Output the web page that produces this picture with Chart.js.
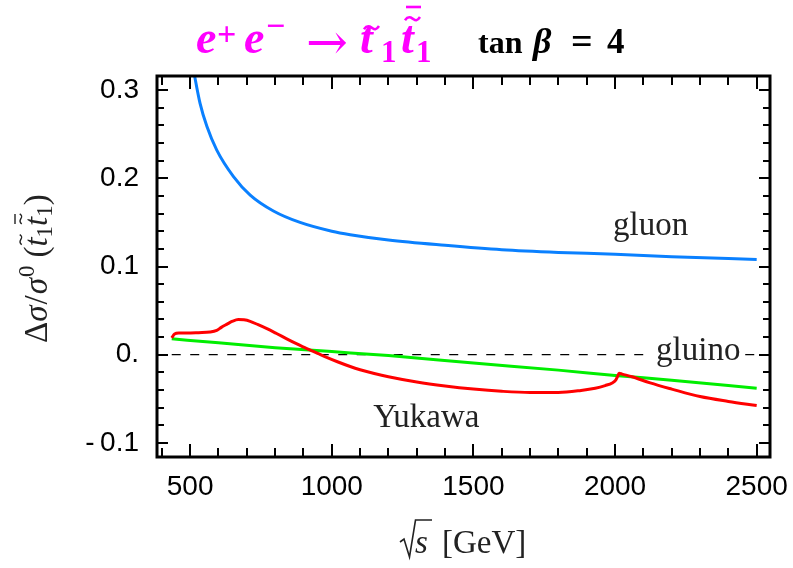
<!DOCTYPE html>
<html>
<head>
<meta charset="utf-8">
<script src="https://cdn.jsdelivr.net/npm/chart.js@4.4.1/dist/chart.umd.min.js"></script>
<style>
  html, body { margin: 0; padding: 0; background: #fff; }
</style>
</head>
<body>
<canvas id="chart" width="793" height="568"></canvas>
<script>
// values (sqrt(s) in GeV, delta sigma / sigma0)
const gluonX = [500, 517, 535, 559, 594, 653, 712, 794, 888, 1000, 1065, 1200, 1400, 1600, 1800, 2000, 2200, 2500];
const gluonY = [0.345, 0.314, 0.285, 0.259, 0.232, 0.202, 0.181, 0.163, 0.150, 0.140, 0.136, 0.130, 0.124, 0.119, 0.116, 0.114, 0.111, 0.108];

const gluinoX = [435, 600, 800, 1000, 1200, 1500, 1800, 2000, 2200, 2500];
const gluinoY = [0.018, 0.0135, 0.008, 0.0035, -0.001, -0.0095, -0.0175, -0.0235, -0.029, -0.038];

const yukawaX = [435, 445, 460, 488, 530, 570, 594, 610, 629, 650, 670, 690, 712, 740, 771, 805, 841, 875, 912, 950, 982, 1020, 1065, 1100, 1150, 1200, 1300, 1400, 1500, 1600, 1700, 1800, 1880, 1930, 1965, 1990, 2003, 2010, 2014, 2025, 2060, 2124, 2200, 2300, 2400, 2500];
const yukawaY = [0.019, 0.0235, 0.0245, 0.0245, 0.025, 0.0257, 0.0276, 0.031, 0.0344, 0.038, 0.0398, 0.0395, 0.0378, 0.034, 0.0295, 0.024, 0.018, 0.0125, 0.0068, 0.0015, -0.003, -0.008, -0.0134, -0.017, -0.0213, -0.025, -0.031, -0.0355, -0.039, -0.0415, -0.0428, -0.0428, -0.0405, -0.038, -0.035, -0.032, -0.0285, -0.024, -0.021, -0.022, -0.025, -0.032, -0.039, -0.0475, -0.053, -0.0576];

const zeroX = [435, 2500];
const zeroY = [0, 0];

const xTicks = [500, 1000, 1500, 2000, 2500];
const xTickLabels = ['500', '1000', '1500', '2000', '2500'];
const yTicks = [-0.1, 0, 0.1, 0.2, 0.3];
const yTickLabels = ['-\u20090.1', '0.', '0.1', '0.2', '0.3'];

// curve labels, anchored in data units
const curveLabels = [
    { text: 'gluon', x: 1993, y: 0.1356, box: false },
    { text: 'Yukawa', x: 1146, y: -0.0815, box: false },
    { text: 'gluino', x: 2145, y: -0.0065, box: true }
];

const toPoints = (xs, ys) => xs.map((x, i) => ({ x: x, y: ys[i] }));

const SERIF = '"Liberation Serif", "DejaVu Serif", serif';

function tilde(ctx, x, y, w, h, lw) {
    ctx.save();
    ctx.lineWidth = lw;
    ctx.beginPath();
    ctx.moveTo(x, y + h * 0.3);
    ctx.bezierCurveTo(x + w * 0.25, y - h, x + w * 0.45, y - h * 0.2, x + w * 0.55, y);
    ctx.bezierCurveTo(x + w * 0.7, y + h * 0.4, x + w * 0.8, y + h * 0.6, x + w, y - h * 0.5);
    ctx.stroke();
    ctx.restore();
}

function put(ctx, s, x, y, font) {
    ctx.font = font;
    ctx.fillText(s, x, y);
    return x + ctx.measureText(s).width;
}

const decorPlugin = {
    id: 'decor',
    afterDatasetsDraw(chart) {
        const ctx = chart.ctx;
        const xs = chart.scales.x, ys = chart.scales.y;
        ctx.save();
        ctx.textBaseline = 'alphabetic';
        ctx.fillStyle = '#222';
        ctx.font = '33px ' + SERIF;
        curveLabels.forEach(l => {
            const px = xs.getPixelForValue(l.x), py = ys.getPixelForValue(l.y);
            const w = ctx.measureText(l.text).width;
            if (l.box) {
                ctx.fillStyle = '#fff';
                ctx.fillRect(px - 8, py - 24, w + 12, 32);
                ctx.fillStyle = '#222';
            }
            ctx.fillText(l.text, px, py);
        });
        ctx.restore();
    },
    afterDraw(chart) {
        const ctx = chart.ctx;
        const a = chart.chartArea;
        const xs = chart.scales.x, ys = chart.scales.y;
        ctx.save();
        ctx.strokeStyle = '#000';
        // inward ticks
        ctx.lineWidth = 2;
        ctx.beginPath();
        for (let v = 400; v <= 2500; v += 100) {
            const px = Math.round(xs.getPixelForValue(v));
            const len = v % 500 === 0 ? 13 : 9;
            ctx.moveTo(px, a.bottom); ctx.lineTo(px, a.bottom - len);
            ctx.moveTo(px, a.top); ctx.lineTo(px, a.top + len);
        }
        for (let k = -5; k <= 15; k++) {
            const py = Math.round(ys.getPixelForValue(k * 0.02));
            const len = k % 5 === 0 ? 11 : 7;
            ctx.moveTo(a.left, py); ctx.lineTo(a.left + len, py);
            ctx.moveTo(a.right, py); ctx.lineTo(a.right - len, py);
        }
        ctx.stroke();
        ctx.lineWidth = 3;
        ctx.strokeRect(a.left, a.top, a.right - a.left, a.bottom - a.top);

        // title
        ctx.textBaseline = 'alphabetic';
        ctx.fillStyle = '#ff00ff';
        ctx.strokeStyle = '#ff00ff';
        const big = 'italic bold 46px ' + SERIF;
        const sup = 'bold 34px ' + SERIF;
        put(ctx, 'e', 196, 53, big);
        put(ctx, '+', 217, 45, sup);
        put(ctx, 'e', 244, 53, big);
        put(ctx, '\u2212', 266, 37, sup);
        put(ctx, '\u2192', 306, 59, '50px "DejaVu Serif", serif');
        put(ctx, 't', 360, 53, big);
        tilde(ctx, 364, 28, 15, 4, 2.6);
        put(ctx, '1', 381, 62, 'bold 31px ' + SERIF);
        put(ctx, 't', 401, 53, big);
        tilde(ctx, 405, 19, 15, 4, 2.6);
        ctx.lineWidth = 2.6;
        ctx.beginPath(); ctx.moveTo(406, 7); ctx.lineTo(421, 7); ctx.stroke();
        put(ctx, '1', 416, 62, 'bold 31px ' + SERIF);

        ctx.fillStyle = '#000';
        put(ctx, 'tan', 478, 53, 'bold 32px ' + SERIF);
        put(ctx, '\u03b2', 533, 53, 'italic bold 36px ' + SERIF);
        put(ctx, '=', 571, 54, 'bold 38px ' + SERIF);
        put(ctx, '4', 607, 53, 'bold 35px ' + SERIF);

        // x axis title
        ctx.fillStyle = '#222';
        ctx.strokeStyle = '#222';
        const f = '33px ' + SERIF;
        ctx.lineWidth = 1.6;
        ctx.lineJoin = 'miter';
        ctx.beginPath();
        ctx.moveTo(400, 542); ctx.lineTo(404, 539); ctx.lineTo(409.5, 557);
        ctx.lineTo(415.5, 520); ctx.lineTo(432, 520);
        ctx.stroke();
        put(ctx, 's', 415, 553, 'italic ' + f);
        put(ctx, '[GeV]', 442, 553, f);

        // y axis title (rotated)
        ctx.save();
        ctx.translate(47, 343);
        ctx.rotate(-Math.PI / 2);
        let t = 0;
        t = put(ctx, '\u0394', t, 0, f);
        t = put(ctx, '\u03c3', t, 0, 'italic ' + f);
        t = put(ctx, '/', t + 1, 0, f);
        t = put(ctx, '\u03c3', t + 1, 0, 'italic ' + f);
        t = put(ctx, '0', t + 1, -13, '23px ' + SERIF);
        t = put(ctx, '(', t + 8, 0, f);
        const t1 = t;
        t = put(ctx, 't', t, 0, 'italic ' + f);
        tilde(ctx, t1 + 2, -26, 10, 2.5, 1.4);
        t = put(ctx, '1', t, 5, '23px ' + SERIF);
        const t2 = t;
        t = put(ctx, 't', t, 0, 'italic ' + f);
        tilde(ctx, t2 + 2, -26, 10, 2.5, 1.4);
        ctx.lineWidth = 1.4;
        ctx.beginPath(); ctx.moveTo(t2 + 2, -32); ctx.lineTo(t2 + 12, -32); ctx.stroke();
        t = put(ctx, '1', t, 5, '23px ' + SERIF);
        put(ctx, ')', t, 0, f);
        ctx.restore();

        ctx.restore();
    }
};

const lineStyle = {
    pointRadius: 0,
    borderWidth: 3,
    fill: false,
    clip: 0,
    cubicInterpolationMode: 'monotone'
};

new Chart(document.getElementById('chart').getContext('2d'), {
    type: 'line',
    data: {
        datasets: [
            Object.assign({ label: 'Yukawa', data: toPoints(yukawaX, yukawaY), borderColor: '#ff0000' }, lineStyle),
            Object.assign({ label: 'gluino', data: toPoints(gluinoX, gluinoY), borderColor: '#00ee00' }, lineStyle),
            Object.assign({ label: 'gluon', data: toPoints(gluonX, gluonY), borderColor: '#0a80ff' }, lineStyle),
            {
                label: 'zero',
                data: toPoints(zeroX, zeroY),
                borderColor: '#000',
                borderWidth: 1.2,
                borderDash: [9, 9.5],
                pointRadius: 0,
                clip: 0
            }
        ]
    },
    options: {
        responsive: false,
        animation: false,
        events: [],
        layout: { padding: { left: 0, top: 76, right: 23, bottom: 0 } },
        plugins: {
            legend: { display: false },
            tooltip: { enabled: false },
            title: { display: false }
        },
        scales: {
            x: {
                type: 'linear',
                min: 383,
                max: 2547,
                grid: { display: false, drawTicks: false },
                border: { display: false },
                afterFit: s => { s.height = 111; s.paddingLeft = 0; s.paddingRight = 0; },
                afterBuildTicks: s => { s.ticks = xTicks.map(v => ({ value: v })); },
                ticks: {
                    autoSkip: false,
                    maxRotation: 0,
                    padding: 13,
                    color: '#000',
                    font: { family: '"Liberation Sans", Arial, sans-serif', size: 28 },
                    callback: (v, i) => xTickLabels[i]
                }
            },
            y: {
                type: 'linear',
                min: -0.116,
                max: 0.316,
                grid: { display: false, drawTicks: false },
                border: { display: false },
                afterFit: s => { s.width = 157; s.paddingTop = 0; s.paddingBottom = 0; },
                afterBuildTicks: s => { s.ticks = yTicks.map(v => ({ value: v })); },
                ticks: {
                    autoSkip: false,
                    padding: 18,
                    color: '#000',
                    font: { family: '"Liberation Sans", Arial, sans-serif', size: 28 },
                    callback: (v, i) => yTickLabels[i]
                }
            }
        }
    },
    plugins: [decorPlugin]
});
</script>
</body>
</html>
